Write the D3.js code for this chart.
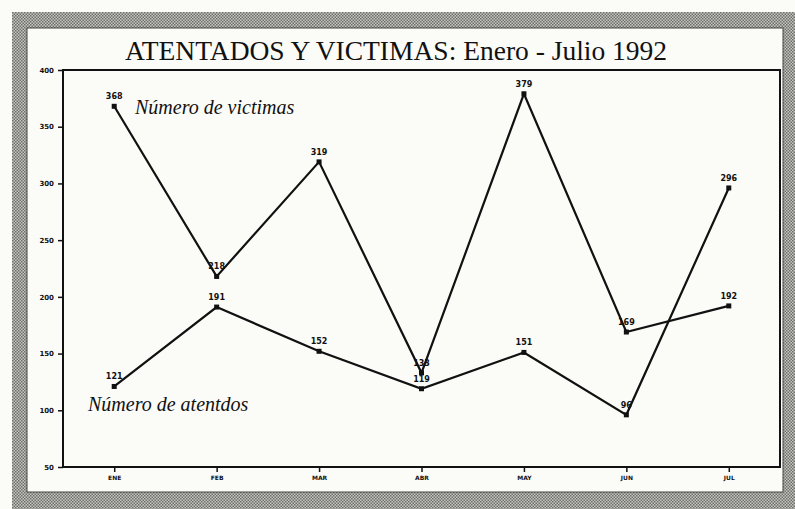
<!DOCTYPE html>
<html>
<head>
<meta charset="utf-8">
<script src="https://cdn.jsdelivr.net/npm/d3@7"></script>
<style>
  body { margin: 0; background: #fbfbf8; }
  svg { display: block; }
</style>
</head>
<body>
<div id="chart"></div>
<script>
const months = ["ENE", "FEB", "MAR", "ABR", "MAY", "JUN", "JUL"];
// as drawn in the original: the two lines cross between JUN and JUL
const victimas = [368, 218, 319, 133, 379, 169, 192];
const atentados = [121, 191, 152, 119, 151, 96, 296];
const yTicks = [50, 100, 150, 200, 250, 300, 350, 400];

const width = 795, height = 509;
const margin = { left: 63, right: 15, top: 70, bottom: 42 };

const svg = d3.select("#chart").append("svg")
    .attr("width", width)
    .attr("height", height);

// hatched frame pattern
const defs = svg.append("defs");
const pat = defs.append("pattern")
    .attr("id", "hatch")
    .attr("width", 3).attr("height", 3)
    .attr("patternUnits", "userSpaceOnUse");
pat.append("rect").attr("width", 3).attr("height", 3).attr("fill", "#c4c4c0");
pat.append("rect").attr("x", 0).attr("y", 0).attr("width", 1.5).attr("height", 1.5).attr("fill", "#6e6e6a");
pat.append("rect").attr("x", 1.5).attr("y", 1.5).attr("width", 1.5).attr("height", 1.5).attr("fill", "#6e6e6a");

svg.append("rect").attr("width", width).attr("height", height).attr("fill", "#fbfbf8");

// frame band
svg.append("path")
    .attr("fill", "url(#hatch)")
    .attr("fill-rule", "evenodd")
    .attr("d", "M12,12 H795 V509 H12 Z M27,28 H783 V492 H27 Z");
svg.append("rect")
    .attr("x", 27).attr("y", 28).attr("width", 756).attr("height", 464)
    .attr("fill", "none").attr("stroke", "#444").attr("stroke-width", 1);

const x = d3.scalePoint()
    .domain(months)
    .range([margin.left, width - margin.right])
    .padding(0.5);

const y = d3.scaleLinear()
    .domain([50, 400])
    .range([height - margin.bottom, margin.top]);

const plotW = width - margin.right - margin.left;
const plotH = height - margin.bottom - margin.top;

// plot box
svg.append("rect")
    .attr("x", margin.left).attr("y", margin.top)
    .attr("width", plotW).attr("height", plotH)
    .attr("fill", "none").attr("stroke", "#111").attr("stroke-width", 2);

// title
svg.append("text")
    .attr("x", 396).attr("y", 60)
    .attr("text-anchor", "middle")
    .attr("font-family", "'Liberation Serif', 'DejaVu Serif', serif")
    .attr("font-size", 27.5)
    .attr("fill", "#111")
    .text("ATENTADOS Y VICTIMAS: Enero - Julio 1992");

// y axis
const yAxis = svg.append("g")
    .attr("transform", `translate(${margin.left},0)`)
    .call(d3.axisLeft(y).tickValues(yTicks).tickSize(5).tickPadding(4));
yAxis.select(".domain").remove();
yAxis.selectAll("line").attr("stroke", "#111").attr("stroke-width", 1.5);
yAxis.selectAll("text")
    .attr("font-family", "'DejaVu Sans', sans-serif")
    .attr("font-size", 7).attr("font-weight", "bold").attr("fill", "#111");

// x axis
const xAxis = svg.append("g")
    .attr("transform", `translate(0,${height - margin.bottom})`)
    .call(d3.axisBottom(x).tickSize(5).tickPadding(4));
xAxis.select(".domain").remove();
xAxis.selectAll("line").attr("stroke", "#111").attr("stroke-width", 1.5);
xAxis.selectAll("text")
    .attr("font-family", "'DejaVu Sans', sans-serif")
    .attr("font-size", 6).attr("font-weight", "bold").attr("fill", "#111");

const line = d3.line()
    .x((d, i) => x(months[i]))
    .y(d => y(d));

function drawSeries(values) {
    svg.append("path")
        .datum(values)
        .attr("fill", "none")
        .attr("stroke", "#111")
        .attr("stroke-width", 2.2)
        .attr("d", line);
    svg.append("g").selectAll("rect")
        .data(values)
        .join("rect")
        .attr("x", (d, i) => x(months[i]) - 2.5)
        .attr("y", d => y(d) - 2.5)
        .attr("width", 5).attr("height", 5)
        .attr("fill", "#111");
    svg.append("g").selectAll("text")
        .data(values)
        .join("text")
        .attr("x", (d, i) => x(months[i]))
        .attr("y", d => y(d) - 7)
        .attr("text-anchor", "middle")
        .attr("font-family", "'DejaVu Sans', sans-serif")
        .attr("font-size", 8).attr("font-weight", "bold")
        .attr("fill", "#111")
        .text(d => d);
}

drawSeries(victimas);
drawSeries(atentados);

// series labels
svg.append("text")
    .attr("x", 135).attr("y", 114)
    .attr("font-family", "'Liberation Serif', 'DejaVu Serif', serif")
    .attr("font-style", "italic")
    .attr("font-size", 20)
    .attr("fill", "#111")
    .text("Número de victimas");

svg.append("text")
    .attr("x", 88).attr("y", 411)
    .attr("font-family", "'Liberation Serif', 'DejaVu Serif', serif")
    .attr("font-style", "italic")
    .attr("font-size", 20)
    .attr("fill", "#111")
    .text("Número de atentdos");
</script>
</body>
</html>
